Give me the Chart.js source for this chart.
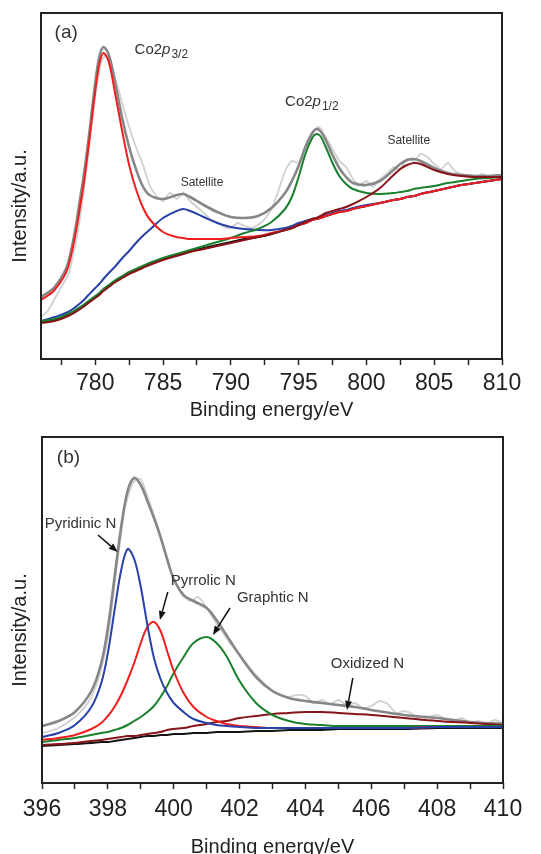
<!DOCTYPE html>
<html>
<head>
<meta charset="utf-8">
<script src="https://cdn.jsdelivr.net/npm/chart.js@4.4.1/dist/chart.umd.min.js"></script>
<style>
html, body { margin: 0; padding: 0; background: #fff; }
#boxA { position: absolute; left: 0; top: 0; width: 541px; height: 420px; }
#boxB { position: absolute; left: 0; top: 420px; width: 541px; height: 434px; }
</style>
</head>
<body>
<div id="boxA"><canvas id="chartA" width="541" height="420"></canvas></div>
<div id="boxB"><canvas id="chartB" width="541" height="434"></canvas></div>
<script>
// ---- panel (a) Co2p ----
var energyA = [776,777,778,779,779.5,780,780.3,780.6,781,781.5,782,782.5,783,783.5,784,785,786,786.5,787,788,789,790,791,792,793,794,794.5,795,795.5,796,796.3,796.6,797,797.5,798,798.5,799,800,801,802,802.5,803,803.5,804,805,806,807,808,809,810];
var envelopeA = [62,72,96,170,219,276,302,312,304,274,240,212,190,173,164,160,164,165,162,154,147,142,141,143,151,166,178,193,212,226,230,228,219,204,191,182,176,174,178,189,195,199,200,198,191,186,184,183,183,184];
var co32A = [59,69,92,162,212,268,295,306,297,263,227,194,170,152,140,127,122,121,120,120,120,121,122,123,126,129,131,134,136,139,140,141,143,145,147,148,150,153,156,159,160,162,163,165,168,171,174,176,178,180];
var sat1A = [38,42,47,57,64,71,75,80,86,93,101,108,116,123,129,141,148,150,148,142,136,132,130,129,129,131,133,136,138,140,141,142,144,146,148,149,151,154,156,159,160,162,163,165,168,171,174,176,178,180];
var co12A = [38,40,45,53,58,63,66,70,74,79,83,87,90,93,96,101,105,107,109,113,117,121,126,130,137,150,162,182,205,221,225,223,212,196,183,175,170,166,165,166,167,168,170,171,173,176,178,180,181,182];
var sat2A = [36,38,43,51,56,61,64,68,72,77,81,85,88,91,94,99,103,105,107,110,113,116,119,122,125,129,131,134,137,140,141,143,146,148,150,152,155,162,171,184,190,194,196,195,189,185,183,182,182,182];
var backgroundA = [37,39,44,52,57,62,65,69,73,78,82,86,89,92,95,100,104,106,108,111,114,117,120,122,125,129,131,134,136,139,140,141,143,145,147,148,150,153,156,159,160,162,163,165,168,171,174,176,178,180];
var rawEnergyA = [776,776.5,777,777.5,778,778.5,779,779.5,780,780.5,781,781.5,782,782.5,783,783.5,784,784.5,785,785.5,786,786.5,787,787.5,788,788.5,789,789.5,790,790.5,791,791.5,792,792.5,793,793.5,794,794.5,795,795.5,796,796.5,797,797.5,798,798.5,799,799.5,800,800.5,801,801.5,802,802.5,803,803.5,804,804.5,805,805.5,806,806.5,807,807.5,808,808.5,809,809.5,810];
var rawA = [42,48,60,72,84,112,152,205,262,300,303,280,255,232,212,195,174,163,158,166,160,166,158,152,146,140,137,132,131,136,133,131,134,140,150,168,188,198,196,212,225,232,222,210,198,192,180,174,178,172,180,185,192,190,200,198,205,202,195,190,196,188,185,184,182,185,183,184,184];
var ticksA = [777.5,780,782.5,785,787.5,790,792.5,795,797.5,800,802.5,805,807.5,810];

// ---- panel (b) N1s ----
var energyB = [396,396.5,397,397.5,397.8,398,398.2,398.4,398.6,398.8,399,399.2,399.4,399.6,399.8,400,400.3,400.6,401,401.3,401.6,402,402.5,403,403.5,404,404.5,405,405.5,406,407,408,409,410];
var envelopeB = [57,62,71,92,120,155,205,255,292,305,298,282,265,246,224,204,188,182,175,163,148,128,106,92,85,82,80,78,76,73,68,65,61,59];
var pyridinicB = [46,50,58,76,100,130,172,212,234,224,196,158,125,104,90,80,71,64,60,58,57,56,55,55,55,55,55,55,55,55,55,56,56,56];
var pyrrolicB = [43,45,48,54,60,67,76,88,103,120,140,156,161,152,132,112,90,76,66,62,59,57,56,55,55,55,55,55,55,55,55,56,56,56];
var graphiticB = [41,43,45,48,50,51,53,55,58,62,66,71,77,86,97,110,126,140,146,140,127,102,80,68,62,59,58,57,57,57,57,57,57,57];
var oxidizedB = [38,39,40,42,43,44,45,46,47,47,48,49,50,51,53,54,55,57,59,61,62,65,67,69,70,71,71,70,69,68,65,62,60,58];
var backgroundB = [37,38,39,40,41,41,42,43,44,45,46,47,47,48,48,49,49,50,50,51,51,51,52,52,53,53,53,54,54,54,54,55,55,55];
var rawEnergyB = [396,396.25,396.5,396.75,397,397.25,397.5,397.75,398,398.25,398.5,398.75,399,399.25,399.5,399.75,400,400.25,400.5,400.75,401,401.25,401.5,401.75,402,402.25,402.5,402.75,403,403.25,403.5,403.75,404,404.25,404.5,404.75,405,405.25,405.5,405.75,406,406.25,406.5,406.75,407,407.25,407.5,407.75,408,408.25,408.5,408.75,409,409.25,409.5,409.75,410];
var rawB = [50,52,55,60,66,74,86,108,145,210,272,300,304,282,258,228,205,188,182,186,175,162,150,138,128,118,108,99,92,88,86,88,87,80,83,79,83,78,80,75,77,82,79,70,72,69,63,66,68,64,62,65,60,62,59,63,60];
var ticksB = [396,397,398,399,400,401,402,403,404,405,406,407,408,409,410];

var FONT = '"Liberation Sans", Arial, sans-serif';

function pts(xs, ys) {
  return xs.map(function (x, i) { return { x: x, y: ys[i] }; });
}

function line(data, color, width, order, tension) {
  return {
    data: data,
    borderColor: color,
    borderWidth: width,
    pointRadius: 0,
    fill: false,
    order: order,
    tension: tension
  };
}

// frame box, y title, text labels, arrows
var decorPlugin = {
  id: 'decor',
  afterDraw: function (chart, args, opts) {
    var c = chart.ctx, a = chart.chartArea;
    var sx = chart.scales.x, sy = chart.scales.y;
    c.save();
    c.strokeStyle = '#222';
    c.lineWidth = 2;
    c.strokeRect(a.left, a.top, a.right - a.left, a.bottom - a.top);

    // y axis title, sits a bit below the middle like the original
    c.save();
    c.translate(20, (a.top + a.bottom) / 2 + 20);
    c.rotate(-Math.PI / 2);
    c.fillStyle = '#222';
    c.font = '20px ' + FONT;
    c.textAlign = 'center';
    c.textBaseline = 'middle';
    c.fillText('Intensity/a.u.', 0, 0);
    c.restore();

    c.fillStyle = '#333';
    c.textBaseline = 'middle';
    c.textAlign = 'left';
    (opts.labels || []).forEach(function (l) {
      var px = sx.getPixelForValue(l.x), py = sy.getPixelForValue(l.y);
      l.parts.forEach(function (p) {
        var fs = p.sub ? Math.round(l.size * 0.8) : l.size;
        c.font = (p.italic ? 'italic ' : '') + fs + 'px ' + FONT;
        c.fillText(p.t, px, py + (p.sub ? l.size * 0.32 : 0));
        px += c.measureText(p.t).width + (p.italic ? 1 : 0);
      });
    });

    c.strokeStyle = '#111';
    c.fillStyle = '#111';
    c.lineWidth = 1.5;
    (opts.arrows || []).forEach(function (ar) {
      var x1 = sx.getPixelForValue(ar.from[0]), y1 = sy.getPixelForValue(ar.from[1]);
      var x2 = sx.getPixelForValue(ar.to[0]), y2 = sy.getPixelForValue(ar.to[1]);
      var ang = Math.atan2(y2 - y1, x2 - x1);
      var hl = 9, hw = 3.5;
      var bx = x2 - hl * Math.cos(ang), by = y2 - hl * Math.sin(ang);
      c.beginPath();
      c.moveTo(x1, y1);
      c.lineTo(bx, by);
      c.stroke();
      c.beginPath();
      c.moveTo(x2, y2);
      c.lineTo(bx + hw * Math.sin(ang), by - hw * Math.cos(ang));
      c.lineTo(bx - hw * Math.sin(ang), by + hw * Math.cos(ang));
      c.closePath();
      c.fill();
    });
    c.restore();
  }
};

function makeOptions(xmin, xmax, tickList, labelEvery, leftW, bottomH, pad, labels, arrows, titleLH, tickPad) {
  return {
    responsive: false,
    animation: false,
    layout: { padding: pad },
    plugins: {
      legend: { display: false },
      tooltip: { enabled: false },
      decor: { labels: labels, arrows: arrows }
    },
    scales: {
      x: {
        type: 'linear',
        min: xmin,
        max: xmax,
        afterBuildTicks: function (s) {
          s.ticks = tickList.map(function (v) { return { value: v }; });
        },
        ticks: {
          autoSkip: false,
          maxRotation: 0,
          padding: tickPad,
          color: '#222',
          font: { family: FONT, size: 23 },
          callback: function (v) { return (v % labelEvery === 0) ? String(v) : ''; }
        },
        grid: { drawOnChartArea: false, tickLength: 6, tickColor: '#222', tickWidth: 1.5 },
        border: { display: false },
        title: {
          display: true,
          text: 'Binding energy/eV',
          color: '#222',
          font: { family: FONT, size: 20, lineHeight: titleLH },
          padding: { top: 0, bottom: 0 }
        },
        afterFit: function (s) { s.height = bottomH; }
      },
      y: {
        min: 0,
        max: 346,
        grid: { display: false },
        border: { display: false },
        ticks: { display: false },
        title: { display: false },
        afterFit: function (s) { s.width = leftW; }
      }
    }
  };
}

var labelsA = [
  { x: 777.0, y: 326, size: 19, parts: [{ t: '(a)' }] },
  { x: 782.9, y: 309, size: 15, parts: [{ t: 'Co2' }, { t: 'p', italic: true }, { t: '3/2', sub: true }] },
  { x: 786.3, y: 176, size: 12, parts: [{ t: 'Satellite' }] },
  { x: 794.0, y: 257, size: 15, parts: [{ t: 'Co2' }, { t: 'p', italic: true }, { t: '1/2', sub: true }] },
  { x: 801.55, y: 218, size: 12, parts: [{ t: 'Satellite' }] }
];

var labelsB = [
  { x: 396.45, y: 325, size: 19, parts: [{ t: '(b)' }] },
  { x: 396.08, y: 259, size: 15, parts: [{ t: 'Pyridinic N' }] },
  { x: 399.91, y: 202, size: 15, parts: [{ t: 'Pyrrolic N' }] },
  { x: 401.92, y: 185, size: 15, parts: [{ t: 'Graphtic N' }] },
  { x: 404.77, y: 119, size: 15, parts: [{ t: 'Oxidized N' }] }
];
var arrowsB = [
  { from: [397.70, 248], to: [398.30, 231] },
  { from: [399.82, 191], to: [399.58, 163] },
  { from: [401.71, 175], to: [401.19, 148] },
  { from: [405.44, 105], to: [405.26, 73] }
];

new Chart(document.getElementById('chartA').getContext('2d'), {
  type: 'line',
  data: {
    datasets: [
      line(pts(rawEnergyA, rawA), 'rgb(208,208,208)', 1.8, 9, 0.2),
      line(pts(energyA, envelopeA), 'rgb(135,135,135)', 2.6, 8, 0.35),
      line(pts(energyA, backgroundA), 'rgb(20,20,20)', 2, 7, 0.35),
      line(pts(energyA, sat1A), 'rgb(40,65,170)', 2, 6, 0.35),
      line(pts(energyA, co12A), 'rgb(25,128,45)', 2, 5, 0.35),
      line(pts(energyA, co32A), 'rgb(240,30,30)', 2, 4, 0.35),
      line(pts(energyA, sat2A), 'rgb(135,20,25)', 2, 3, 0.35)
    ]
  },
  options: makeOptions(776, 810, ticksA, 5, 41, 61, { top: 13, right: 39, left: 0, bottom: 0 }, labelsA, [], 1.0, 5),
  plugins: [decorPlugin]
});

new Chart(document.getElementById('chartB').getContext('2d'), {
  type: 'line',
  data: {
    datasets: [
      line(pts(rawEnergyB, rawB), 'rgb(208,208,208)', 1.8, 9, 0.2),
      line(pts(energyB, envelopeB), 'rgb(135,135,135)', 2.6, 8, 0.35),
      line(pts(energyB, backgroundB), 'rgb(20,20,20)', 2, 7, 0.35),
      line(pts(energyB, oxidizedB), 'rgb(135,20,25)', 2, 6, 0.35),
      line(pts(energyB, graphiticB), 'rgb(25,128,45)', 2, 5, 0.35),
      line(pts(energyB, pyrrolicB), 'rgb(240,30,30)', 2, 4, 0.35),
      line(pts(energyB, pyridinicB), 'rgb(40,65,170)', 2, 3, 0.35)
    ]
  },
  options: makeOptions(396, 410, ticksB, 2, 42, 71, { top: 17, right: 38, left: 0, bottom: 0 }, labelsB, arrowsB, 0.7, 7),
  plugins: [decorPlugin]
});
</script>
</body>
</html>
